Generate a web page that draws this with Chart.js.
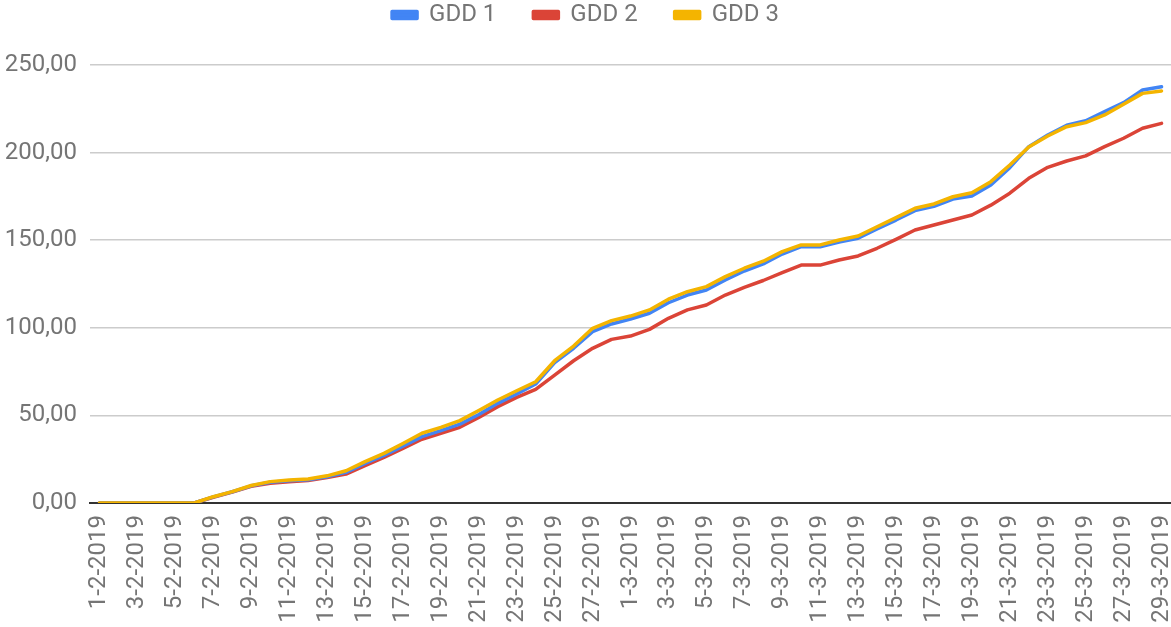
<!DOCTYPE html>
<html>
<head>
<meta charset="utf-8">
<script src="https://cdn.jsdelivr.net/npm/chart.js@4.4.1/dist/chart.umd.min.js"></script>
<style>
  html, body { margin: 0; padding: 0; background: #fff; }
  #wrap { width: 1171px; height: 627px; }
</style>
</head>
<body>
<div id="wrap"><canvas id="gddChart" width="1171" height="627"></canvas></div>
<script>
// categories (dates)
const days = [
  '1-2-2019', '2-2-2019', '3-2-2019', '4-2-2019', '5-2-2019', '6-2-2019', '7-2-2019',
  '8-2-2019', '9-2-2019', '10-2-2019', '11-2-2019', '12-2-2019', '13-2-2019', '14-2-2019',
  '15-2-2019', '16-2-2019', '17-2-2019', '18-2-2019', '19-2-2019', '20-2-2019', '21-2-2019',
  '22-2-2019', '23-2-2019', '24-2-2019', '25-2-2019', '26-2-2019', '27-2-2019', '28-2-2019',
  '1-3-2019', '2-3-2019', '3-3-2019', '4-3-2019', '5-3-2019', '6-3-2019', '7-3-2019',
  '8-3-2019', '9-3-2019', '10-3-2019', '11-3-2019', '12-3-2019', '13-3-2019', '14-3-2019',
  '15-3-2019', '16-3-2019', '17-3-2019', '18-3-2019', '19-3-2019', '20-3-2019', '21-3-2019',
  '22-3-2019', '23-3-2019', '24-3-2019', '25-3-2019', '26-3-2019', '27-3-2019', '28-3-2019',
  '29-3-2019'
];

// series
const gdd1 = [
  0, 0, 0, 0, 0, 0, 3.5, 6.4, 9.8, 11.8, 12.7, 13.3, 15, 17.5,
  22.6, 27.2, 32.5, 37.9, 41.3, 45, 50.5, 56.9, 62.2, 67.9, 80.1, 88.3, 97.8, 102.2,
  105, 108.3, 114.3, 118.7, 121.6, 127.3, 132.4, 136.5, 142.1, 146.3, 146.3, 149, 151.1, 156.4,
  161.5, 166.9, 169.3, 173.5, 175.2, 181.5, 191.4, 203.4, 210, 215.6, 218.2, 223.4, 228.5, 235.7,
  237.6
];
const gdd2 = [
  0, 0, 0, 0, 0, 0, 3.3, 6.2, 9.5, 11.2, 12.1, 12.8, 14.5, 16.5,
  21.3, 26, 31.2, 36.4, 39.8, 43.2, 48.8, 55, 60.3, 64.9, 73, 81.2, 88.3, 93.4,
  95.3, 99.1, 105.4, 110.2, 113, 118.7, 123.1, 127, 131.5, 135.8, 135.8, 138.7, 141, 145.4,
  150.5, 155.8, 158.7, 161.5, 164.4, 170, 176.8, 185.3, 191.6, 195.2, 198.1, 203.4, 208.2, 213.9,
  216.7
];
const gdd3 = [
  0, 0, 0, 0, 0, 0, 3.6, 6.5, 10, 12.2, 13.1, 13.7, 15.5, 18.4,
  23.6, 28.3, 34, 39.8, 43.2, 47, 52.8, 58.8, 64.1, 69.2, 81.2, 89.6, 99.7, 104.1,
  106.7, 110.2, 116.3, 120.6, 123.5, 129.2, 134, 138, 143.5, 147.3, 147.3, 150.1, 152.4, 157.7,
  162.9, 168.2, 170.7, 174.8, 177.1, 183.4, 192.9, 203.2, 209.5, 214.8, 217.1, 221.5, 227.6, 233.8,
  235.2
];

// y axis
const yMin = 0;
const yMax = 250;
const yStep = 50;

const seriesNames = ['GDD 1', 'GDD 2', 'GDD 3'];
const seriesColors = ['#4285f4', '#db4437', '#f4b400'];

const textGray = '#757575';
const font = 'Roboto';

// extra space under the legend
const legendSpacer = {
  id: 'legendSpacer',
  beforeInit(chart) {
    const origFit = chart.legend.fit;
    chart.legend.fit = function fit() {
      origFit.bind(chart.legend)();
      this.height += 28;
    };
  }
};

function makeChart() {
  const ctx = document.getElementById('gddChart').getContext('2d');
  new Chart(ctx, {
    type: 'line',
    data: {
      labels: days,
      datasets: [
        { label: seriesNames[0], data: gdd1, borderColor: seriesColors[0], backgroundColor: seriesColors[0], order: 2 },
        { label: seriesNames[1], data: gdd2, borderColor: seriesColors[1], backgroundColor: seriesColors[1], order: 3 },
        { label: seriesNames[2], data: gdd3, borderColor: seriesColors[2], backgroundColor: seriesColors[2], order: 1 }
      ]
    },
    options: {
      responsive: false,
      animation: false,
      layout: { padding: { top: -34, left: 0, right: 0, bottom: 0 } },
      elements: {
        line: { borderWidth: 3.5, tension: 0, fill: false, borderJoinStyle: 'round', borderCapStyle: 'round' },
        point: { radius: 0, hoverRadius: 0 }
      },
      plugins: {
        legend: {
          position: 'top',
          labels: {
            boxWidth: 25,
            boxHeight: 7,
            padding: 37,
            color: textGray,
            font: { family: font, size: 24 },
            sort: (a, b) => a.datasetIndex - b.datasetIndex
          }
        },
        tooltip: { enabled: false }
      },
      scales: {
        x: {
          type: 'category',
          offset: true,
          grid: { display: false, drawTicks: false },
          border: { display: true, color: '#333333', width: 2 },
          ticks: {
            autoSkip: false,
            minRotation: 90,
            maxRotation: 90,
            padding: 12,
            color: textGray,
            font: { family: font, size: 24 },
            callback: function(val, idx) {
              return idx % 2 === 0 ? this.getLabelForValue(val) : '';
            }
          },
          afterFit: (scale) => {
            scale.height = 124;
            scale.paddingLeft = 0;
            scale.paddingRight = 0;
          }
        },
        y: {
          min: yMin,
          max: yMax,
          grid: {
            drawTicks: false,
            lineWidth: 1.5,
            color: (c) => (c.tick && c.tick.value === 0) ? 'rgba(0,0,0,0)' : '#cccccc'
          },
          border: { display: false },
          ticks: {
            stepSize: yStep,
            padding: 13,
            color: textGray,
            font: { family: font, size: 24 },
            callback: (v) => v.toFixed(2).replace('.', ',')
          },
          afterFit: (scale) => { scale.width = 90; }
        }
      }
    },
    plugins: [legendSpacer]
  });
}

document.fonts.load('24px Roboto').then(makeChart, makeChart);
</script>
</body>
</html>
